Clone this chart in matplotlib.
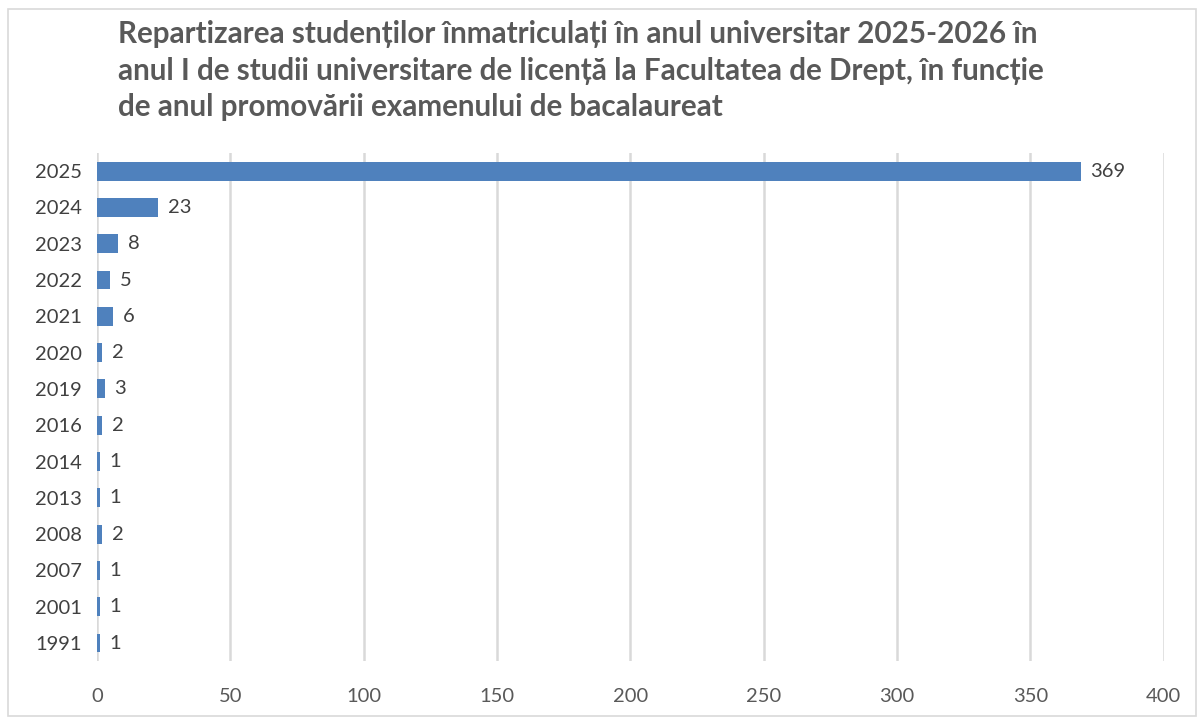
import matplotlib.pyplot as plt
from matplotlib.patches import Rectangle

## Data
years = ['2025', '2024', '2023', '2022', '2021', '2020', '2019',
         '2016', '2014', '2013', '2008', '2007', '2001', '1991']
students = [369, 23, 8, 5, 6, 2, 3, 2, 1, 1, 2, 1, 1, 1]
x_ticks = [0, 50, 100, 150, 200, 250, 300, 350, 400]

title = ('Repartizarea studenților înmatriculați în anul universitar 2025-2026 în\n'
         'anul I de studii universitare de licență la Facultatea de Drept, în funcție\n'
         'de anul promovării examenului de bacalaureat')

plt.rcParams['font.family'] = ['Lato', 'DejaVu Sans']

fig = plt.figure(figsize=(12.04, 7.25), dpi=100)
ax = fig.add_axes([0.0806, 0.088, 0.886, 0.701])

pos = list(range(len(years)))[::-1]
ax.barh(pos, students, height=0.52, color='#4F81BD', zorder=3)
for p, v in zip(pos, students):
    ax.text(v + 3.5, p, str(v), va='center', ha='left', fontsize=14.5, color='#404040')

ax.set_yticks(pos)
ax.set_yticklabels(years, fontsize=14.5, color='#404040')
ax.set_xticks(x_ticks)
ax.set_xticklabels([str(t) for t in x_ticks], fontsize=14.5, color='#595959')
ax.set_xlim(0, 400)
ax.set_ylim(-0.5, len(years) - 0.5)
ax.tick_params(length=0)
ax.tick_params(axis='x', pad=19)
ax.tick_params(axis='y', pad=11)
ax.grid(axis='x', color='#D9D9D9', linewidth=1.8, zorder=0)
for s in ax.spines.values():
    s.set_visible(False)

fig.text(0.098, 0.972, title, ha='left', va='top', fontsize=21.3, fontweight='bold',
         color='#595959', linespacing=1.36)

fig.patches.append(Rectangle((8 / 1204, 9 / 725), 1188 / 1204, 707 / 725,
                             transform=fig.transFigure, fill=False,
                             edgecolor='#D9D9D9', linewidth=1.2))

fig.savefig('out.png', dpi=100)
